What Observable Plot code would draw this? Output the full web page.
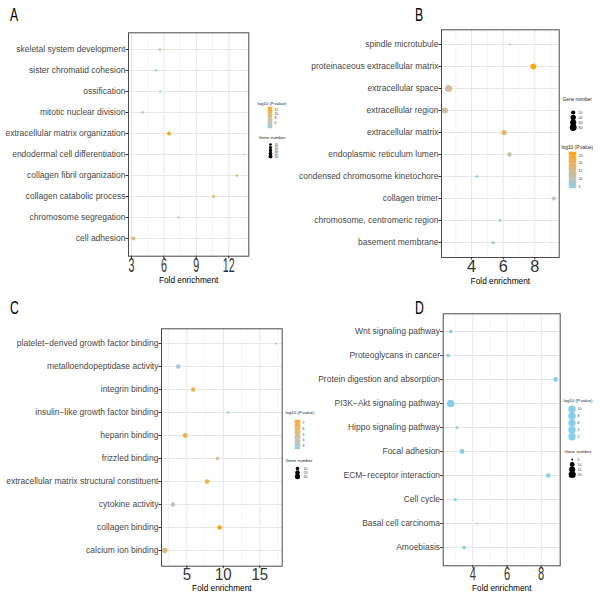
<!DOCTYPE html>
<html><head><meta charset="utf-8">
<script src="https://cdn.jsdelivr.net/npm/d3@7"></script>
<script src="https://cdn.jsdelivr.net/npm/@observablehq/plot@0.6"></script>
<style>
html,body{margin:0;padding:0;background:#fff;}
#root{position:relative;width:600px;height:600px;overflow:hidden;font-family:"Liberation Sans",Arial,sans-serif;}
.abs{position:absolute;}
</style></head><body><div id="root"></div>
<script>
// ---------- Panel A: biological process ----------
const termsA = ["skeletal system development","sister chromatid cohesion","ossification","mitotic nuclear division","extracellular matrix organization","endodermal cell differentiation","collagen fibril organization","collagen catabolic process","chromosome segregation","cell adhesion"];
const foldA = [5.63,5.26,5.66,4.02,6.47,13.4,12.75,10.6,7.34,3.16];
const log10PA = [8,3.8,4,6.5,12.8,5,9.5,11,5.5,8.5];
const genesA = [8,7,7,10,28,5,8,12,7,33];
const xticksA = [3,6,9,12];
const pticksA = [12,10,8,6];
const gbreaksA = [10,15,20,25,30];

// ---------- Panel B: cellular component ----------
const termsB = ["spindle microtubule","proteinaceous extracellular matrix","extracellular space","extracellular region","extracellular matrix","endoplasmic reticulum lumen","condensed chromosome kinetochore","collagen trimer","chromosome, centromeric region","basement membrane"];
const foldB = [6.42,7.9,2.55,2.31,6.06,6.40,4.34,9.2,5.8,5.37];
const log10PB = [4.5,26.5,14,13,19,13,4.5,10,4.5,4.8];
const genesB = [6,50,84,58,35,23,7,15,8,9];
const xticksB = [4,6,8];
const pticksB = [25,20,15,10,5];
const gbreaksB = [20,40,60,80];

// ---------- Panel C: molecular function ----------
const termsC = ["platelet\u2212derived growth factor binding","metalloendopeptidase activity","integrin binding","insulin\u2212like growth factor binding","heparin binding","frizzled binding","extracellular matrix structural constituent","cytokine activity","collagen binding","calcium ion binding"];
const foldC = [17.2,3.82,5.87,10.7,4.78,9.2,7.78,3.1,9.5,1.98];
const log10PC = [3.2,2.8,6.3,2.6,6.2,4.5,6.5,3.4,7.4,5.0];
const genesC = [4,17,19,5,24,8,19,18,21,33];
const xticksC = [5,10,15];
const pticksC = [7,6,5,4,3];
const gbreaksC = [10,20,30];

// ---------- Panel D: KEGG pathways ----------
const termsD = ["Wnt signaling pathway","Proteoglycans in cancer","Protein digestion and absorption","PI3K\u2212Akt signaling pathway","Hippo signaling pathway","Focal adhesion","ECM\u2212receptor interaction","Cell cycle","Basal cell carcinoma","Amoebiasis"];
const foldD = [2.71,2.56,8.84,2.71,3.08,3.37,8.41,2.98,4.26,3.49];
const log10PD = [3,3.5,10,6,3,5,10.3,2.5,2,3.5];
const genesD = [7,7,10,23,6,10,9,6,5,7];
const xticksD = [4,6,8];
const pticksD = [10,8,6,4,2];
const gbreaksD = [5,10,15,20];

const letters = ["A","B","C","D"];
const axisTitle = "Fold enrichment";
const colorTitle = "log10 (P.value)";
const sizeTitle = "Gene number";

// layout / style specs
const panels = [
  {letter:letters[0], left:0, top:0, terms:termsA, fold:foldA, p:log10PA, genes:genesA, xticks:xticksA,
   xdomain:[2.72,13.86], ml:128, mr:51.7, mt:32.3, mb:44.3, tickFont:19.5, tickScale:0.55, tickPad:-0.5, titleDy:27,
   pdomain:[3.2,12.9], colors:["#87CEEB","#FFA500"], rlo:5, rhi:33, rrange:[0.8,2.05],
   cleg:{ticks:pticksA, titleX:257, titleY:104, barLeft:268, barRight:272, barTop:107, barBottom:128, labelX:274, titleFont:4.4, labelFont:3.3},
   sleg:{breaks:gbreaksA, titleX:258, titleY:138, dotX:270, firstY:141.5, lastY:159, labelX:274, titleFont:4.4, labelFont:3.3}},
  {letter:letters[1], left:300, top:0, terms:termsB, fold:foldB, p:log10PB, genes:genesB, xticks:xticksB,
   xdomain:[2.1,9.54], ml:141, mr:41.3, mt:29.3, mb:43, tickFont:16.3, tickScale:1, tickPad:0.5, titleDy:26,
   pdomain:[3.7,27], colors:["#87CEEB","#FFA500"], rlo:6, rhi:84, rrange:[1.1,3.5],
   cleg:{ticks:pticksB, titleX:561, titleY:148, barLeft:569, barRight:576, barTop:152, barBottom:188, labelX:578, titleFont:4.8, labelFont:3.6},
   sleg:{breaks:gbreaksB, titleX:562, titleY:100, dotX:572.7, firstY:108, lastY:130.5, labelX:578, titleFont:4.8, labelFont:3.6}},
  {letter:letters[2], left:0, top:300, terms:termsC, fold:foldC, p:log10PC, genes:genesC, xticks:xticksC,
   xdomain:[1.53,18.07], ml:161, mr:18.3, mt:28.3, mb:34.3, tickFont:16.3, tickScale:0.92, tickPad:0.1, titleDy:24.3,
   pdomain:[2.3,7.5], colors:["#87CEEB","#FFA500"], rlo:4, rhi:33, rrange:[1.0,2.75],
   cleg:{ticks:pticksC, titleX:285, titleY:413, barLeft:295, barRight:300, barTop:420, barBottom:449, labelX:302, titleFont:4.4, labelFont:3.5},
   sleg:{breaks:gbreaksC, titleX:285, titleY:461, dotX:297, firstY:465.7, lastY:478, labelX:303, titleFont:4.4, labelFont:3.5}},
  {letter:letters[3], left:300, top:300, terms:termsD, fold:foldD, p:log10PD, genes:genesD, xticks:xticksD,
   xdomain:[2.27,9.11], ml:142.7, mr:40.3, mt:13.3, mb:34.7, tickFont:18.6, tickScale:0.6, tickPad:-1.1, titleDy:24.7,
   pdomain:[1.8,10.5], colors:["#87CEEB","#87CEEB"], rlo:5, rhi:23, rrange:[0.9,3.8], dotBar:true,
   cleg:{ticks:pticksD, titleX:563, titleY:401, barLeft:568, barRight:575, barTop:407, barBottom:437, labelX:577, titleFont:4.4, labelFont:3.5},
   sleg:{breaks:gbreaksD, titleX:564, titleY:452, dotX:571.7, firstY:456, lastY:477, labelX:577, titleFont:4.4, labelFont:3.5}}
];

const root = document.getElementById("root");
const FONT = "Liberation Sans, Arial, sans-serif";
const baseStyle = {fontFamily: FONT, background: "transparent", overflow: "visible"};

function place(el, x, y, w, h) {
  const d = document.createElement("div");
  d.className = "abs";
  d.style.left = x + "px"; d.style.top = y + "px";
  d.style.width = w + "px"; d.style.height = h + "px";
  d.appendChild(el);
  root.appendChild(d);
}
function colorOpts(s) {
  return {type: "linear", domain: s.pdomain, range: s.colors, interpolate: d3.interpolateLab};
}
function rOpts(s) {
  return {type: "sqrt", domain: [0, s.rhi - s.rlo], range: s.rrange};
}
function minorTicks(ticks, domain) {
  const step = ticks[1] - ticks[0];
  const out = [];
  for (let v = ticks[0] - step / 2; v <= domain[1]; v += step) if (v >= domain[0]) out.push(v);
  return out;
}

function mainPlot(s) {
  const data = s.terms.map((t, i) => ({term: t, fold: s.fold[i], p: s.p[i], genes: s.genes[i]}));
  const el = Plot.plot({
    width: 300, height: 300,
    marginLeft: s.ml, marginRight: s.mr, marginTop: s.mt, marginBottom: s.mb,
    style: baseStyle,
    x: {domain: s.xdomain},
    y: {type: "point", domain: s.terms, padding: 0.6},
    color: colorOpts(s),
    r: rOpts(s),
    marks: [
      Plot.gridX(minorTicks(s.xticks, s.xdomain), {stroke: "#ececec", strokeOpacity: 1, strokeWidth: 0.6}),
      Plot.gridX(s.xticks, {stroke: "#e6e6e6", strokeOpacity: 1, strokeWidth: 1}),
      Plot.gridY(s.terms, {stroke: "#e6e6e6", strokeOpacity: 1, strokeWidth: 1}),
      Plot.frame({stroke: "#4a4a4a", strokeWidth: 1}),
      Plot.axisY(s.terms, {tickSize: 2.5, tickPadding: 0.6, fontSize: 8.5, color: "#474747", stroke: "#333", label: null}),
      Plot.axisX(s.xticks, {tickSize: 2.5, tickPadding: s.tickPad, fontSize: s.tickFont, color: "#333", label: null}),
      Plot.text([axisTitle], {text: d => d, frameAnchor: "bottom", dy: s.titleDy, fontSize: 8.3, fill: "#000"}),
      Plot.dot(data, {x: "fold", y: "term", r: d => d.genes - s.rlo, fill: "p"})
    ]
  });
  d3.select(el).selectAll('g[aria-label="x-axis tick label"] text').each(function() {
    const t = this.getAttribute("transform") || "";
    this.setAttribute("transform", t + " scale(" + s.tickScale + ",1)");
  });
  place(el, s.left, s.top, 300, 300);
}

function colorLegend(s) {
  const L = s.cleg;
  const x0 = Math.min(L.titleX, L.barLeft) - 1, y0 = L.titleY - 7;
  const w = 42, h = L.barBottom - y0 + 3;
  const lo = s.pdomain[0], hi = s.pdomain[1], n = 36;
  const steps = d3.range(n).map(i => [lo + (hi - lo) * i / n, lo + (hi - lo) * (i + 1) / n]);
  const marks = [];
  if (s.dotBar) {
    marks.push(Plot.dot(L.ticks, {y: d => d, fill: d => d, r: 3.7, frameAnchor: "middle"}));
  } else {
    marks.push(Plot.rect(steps, {y1: d => d[0], y2: d => d[1], fill: d => (d[0] + d[1]) / 2, stroke: d => (d[0] + d[1]) / 2, strokeWidth: 0.4}));
    marks.push(Plot.tickY(L.ticks, {y: d => d, stroke: "white", strokeWidth: 0.4, insetRight: (L.barRight - L.barLeft) * 0.8}));
    marks.push(Plot.tickY(L.ticks, {y: d => d, stroke: "white", strokeWidth: 0.4, insetLeft: (L.barRight - L.barLeft) * 0.8}));
  }
  marks.push(Plot.text(L.ticks, {y: d => d, text: d => String(d), frameAnchor: "right", dx: L.labelX - L.barRight, textAnchor: "start", fontSize: L.labelFont, fill: "#333"}));
  marks.push(Plot.text([colorTitle], {text: d => d, frameAnchor: "top-left", dx: L.titleX - L.barLeft, dy: L.titleY - L.barTop, lineAnchor: "bottom", textAnchor: "start", fontSize: L.titleFont, fill: "#222"}));
  const el = Plot.plot({
    width: w, height: h,
    marginLeft: L.barLeft - x0, marginRight: w - (L.barRight - x0),
    marginTop: L.barTop - y0, marginBottom: h - (L.barBottom - y0),
    style: baseStyle,
    y: {domain: s.pdomain, axis: null},
    color: colorOpts(s),
    marks
  });
  place(el, x0, y0, w, h);
}

function sizeLegend(s) {
  const L = s.sleg;
  const x0 = L.titleX - 1, y0 = L.titleY - 7;
  const w = 40, h = L.lastY - y0 + 6;
  const el = Plot.plot({
    width: w, height: h, margin: 0,
    style: baseStyle,
    y: {type: "point", domain: L.breaks, range: [L.firstY - y0, L.lastY - y0], axis: null},
    r: rOpts(s),
    marks: [
      Plot.dot(L.breaks, {y: d => d, r: d => d - s.rlo, frameAnchor: "left", dx: L.dotX - x0, fill: "#000"}),
      Plot.text(L.breaks, {y: d => d, text: d => String(d), frameAnchor: "left", dx: L.labelX - x0, textAnchor: "start", fontSize: L.labelFont, fill: "#333"}),
      Plot.text([sizeTitle], {text: d => d, frameAnchor: "top-left", dx: L.titleX - x0, dy: L.titleY - y0, lineAnchor: "bottom", textAnchor: "start", fontSize: L.titleFont, fill: "#222"})
    ]
  });
  place(el, x0, y0, w, h);
}

// draw order: main plots, then legends (panel C's legend overlaps panel D's blank area)
panels.slice().reverse().forEach(mainPlot);
panels.forEach(s => { colorLegend(s); sizeLegend(s); });

// panel letters
const overlay = d3.select(root).append("svg").attr("class", "abs")
  .attr("width", 600).attr("height", 600).style("left", "0px").style("top", "0px").style("pointer-events", "none");
const letterPos = [[10, 21], [415, 21], [10, 314], [415, 313.5]];
panels.forEach((s, i) => {
  overlay.append("text").text(s.letter)
    .attr("transform", `translate(${letterPos[i][0]},${letterPos[i][1]}) scale(0.7,1)`)
    .attr("font-family", FONT).attr("font-size", 17.5).attr("fill", "#000");
});
</script></body></html>
